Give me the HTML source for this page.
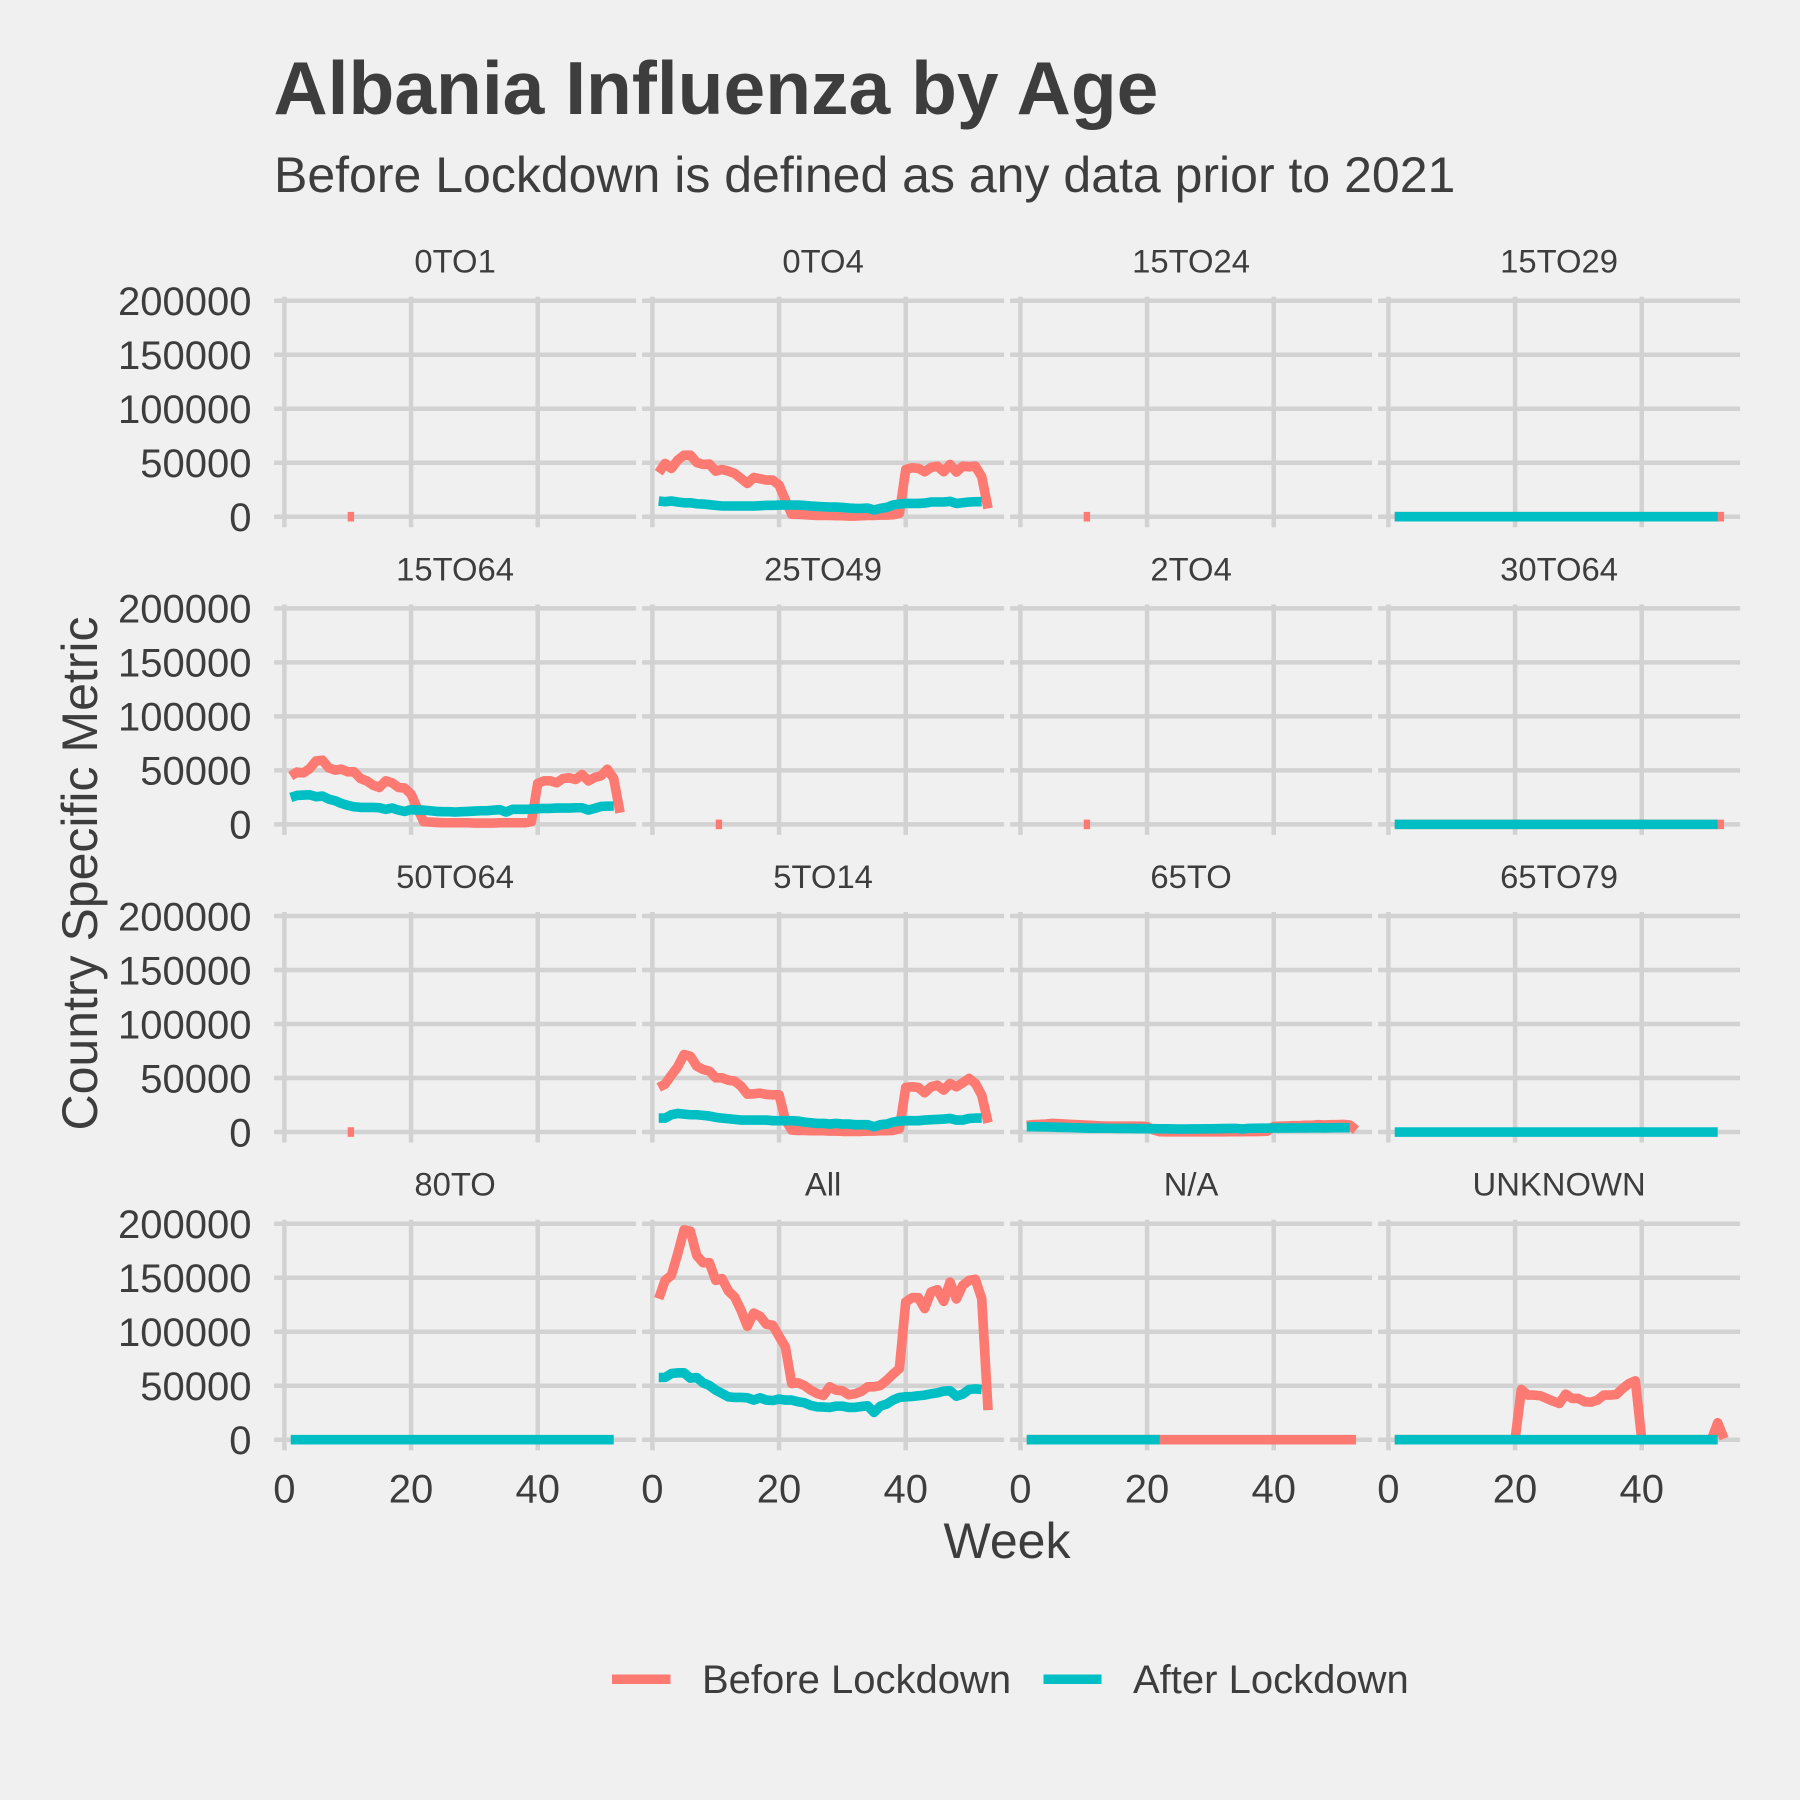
<!DOCTYPE html>
<html lang="en">
<head>
<meta charset="utf-8">
<title>Albania Influenza by Age</title>
<style>
html,body{margin:0;padding:0;background:#f0f0f0;}
svg{display:block;font-family:"Liberation Sans",Arial,sans-serif;}
text{fill:#3d3d3d;}
</style>
</head>
<body>
<svg id="chart" xmlns="http://www.w3.org/2000/svg" width="1800" height="1800" viewBox="0 0 1800 1800">
  <rect x="0" y="0" width="1800" height="1800" fill="#f0f0f0"/>
  <text x="273.5" y="114" font-size="75" font-weight="bold">Albania Influenza by Age</text>
  <text x="274" y="192" font-size="50">Before Lockdown is defined as any data prior to 2021</text>
  <text x="0" y="0" font-size="50" text-anchor="middle" transform="translate(97,873.5) rotate(-90)">Country Specific Metric</text>
  <text x="1007" y="1558" font-size="50" text-anchor="middle">Week</text>
  <g id="panels"></g>
  <g>
    <rect x="612" y="1674.5" width="58.5" height="9.5" fill="#fc7a71"/>
    <text x="702" y="1693" font-size="40">Before Lockdown</text>
    <rect x="1043.5" y="1674.5" width="58" height="9.5" fill="#00bfc4"/>
    <text x="1133" y="1693" font-size="40">After Lockdown</text>
  </g>
</svg>
<script>
const categories = ["0TO1","0TO4","15TO24","15TO29","15TO64","25TO49","2TO4","30TO64","50TO64","5TO14","65TO","65TO79","80TO","All","N/A","UNKNOWN"];
const xTickValues = [0,20,40];
const yTickValues = [0,50000,100000,150000,200000];
const yTickLabels = ["0","50000","100000","150000","200000"];

const before0TO1 = [null,null,null,null,null,null,null,null,null,0,0];
const before15TO24 = [null,null,null,null,null,null,null,null,null,0,0];
const before25TO49 = [null,null,null,null,null,null,null,null,null,0,0];
const before2TO4 = [null,null,null,null,null,null,null,null,null,0,0];
const before50TO64 = [null,null,null,null,null,null,null,null,null,0,0];

const before0TO4 = [40700,49300,44700,52400,57000,57000,50200,48400,48700,42200,43700,42200,40000,35400,30800,36300,35100,33900,33900,29300,15400,2200,2200,1800,1500,1200,1200,1200,900,900,600,600,900,1200,1200,1500,1500,1800,3100,43700,45300,44700,41600,45600,46800,41600,48400,41300,46800,46200,46800,37000,7700];
const after0TO4 = [14500,13900,14500,13600,12900,12900,12000,11700,11100,10500,9900,9900,9900,9900,9900,9900,10200,10500,10500,10800,10800,10800,10800,10500,9900,9500,9200,8900,8900,8600,8000,7700,7700,8000,6200,7700,8600,10800,11700,12300,12300,12300,12600,13600,13600,13600,14200,12300,12900,13600,13900,13900];

const before15TO29 = [0,0,0,0,0,0,0,0,0,0,0,0,0,0,0,0,0,0,0,0,0,0,0,0,0,0,0,0,0,0,0,0,0,0,0,0,0,0,0,0,0,0,0,0,0,0,0,0,0,0,0,0,0];
const after15TO29 = [0,0,0,0,0,0,0,0,0,0,0,0,0,0,0,0,0,0,0,0,0,0,0,0,0,0,0,0,0,0,0,0,0,0,0,0,0,0,0,0,0,0,0,0,0,0,0,0,0,0,0,0];

const before15TO64 = [44700,48400,47700,51700,58800,59400,52400,50200,51100,48700,48700,42500,40300,36300,34200,40300,38500,34200,33600,28000,14800,2500,2200,1800,1500,1500,1500,1500,1500,1200,1200,1200,1200,1500,1500,1500,1500,1500,2500,37900,40300,40300,38500,42500,43100,41600,46200,40300,43400,45000,51100,42500,10800];
const after15TO64 = [24900,26800,27100,27400,25600,26200,23400,21900,19400,17600,16300,15700,15700,15700,15400,13900,15100,13200,12000,13600,13200,13200,12600,12000,11700,11700,11400,11700,12000,12300,12600,12600,13200,13600,11400,13900,13900,13900,14200,14500,14800,14800,15100,15100,15100,15400,15400,13200,14800,16600,16900,16900];

const before30TO64 = [0,0,0,0,0,0,0,0,0,0,0,0,0,0,0,0,0,0,0,0,0,0,0,0,0,0,0,0,0,0,0,0,0,0,0,0,0,0,0,0,0,0,0,0,0,0,0,0,0,0,0,0,0];
const after30TO64 = [0,0,0,0,0,0,0,0,0,0,0,0,0,0,0,0,0,0,0,0,0,0,0,0,0,0,0,0,0,0,0,0,0,0,0,0,0,0,0,0,0,0,0,0,0,0,0,0,0,0,0,0];

const before5TO14 = [41300,44400,52700,60400,71800,70200,61000,57900,56400,50200,50200,48000,47100,42500,35100,35400,36000,34800,34500,34500,11100,1800,1500,1500,1200,1200,1200,900,900,600,600,600,600,900,900,1200,1200,1500,3100,41300,41900,41300,36300,41900,43400,38800,45000,41900,45600,49600,45000,34200,8600];
const after5TO14 = [12900,12900,16000,17200,16600,16000,16000,15400,14800,13600,12900,12300,11700,11100,11100,11100,11100,11100,10500,10500,10500,10500,10200,9200,8600,8000,8000,7400,8000,7400,7400,6800,6800,6800,4900,6800,7400,9200,10200,10500,10500,10500,11100,11400,11700,12000,12600,11100,11100,12600,12900,12900];

const before65TO = [6200,6800,7100,7400,8000,7700,7400,7100,6800,6500,6200,5900,5600,5400,5400,5400,5400,5400,5400,5100,2000,300,200,200,200,200,200,200,200,200,200,200,300,300,300,400,400,500,800,5100,5400,5600,5900,5900,6200,6200,6800,6500,6800,6800,7100,6500,1800];
const after65TO = [4900,4900,4800,4700,4600,4400,4300,4100,3900,3700,3600,3600,3500,3500,3400,3300,3300,3200,3200,3100,3100,3000,3000,2900,2800,2800,2900,2900,3000,3000,3100,3200,3300,3400,2800,3400,3500,3600,3600,3700,3700,3700,3800,3800,3800,3900,3900,3800,3900,4000,4000,4000];

const after65TO79 = [0,0,0,0,0,0,0,0,0,0,0,0,0,0,0,0,0,0,0,0,0,0,0,0,0,0,0,0,0,0,0,0,0,0,0,0,0,0,0,0,0,0,0,0,0,0,0,0,0,0,0,0];
const after80TO = [0,0,0,0,0,0,0,0,0,0,0,0,0,0,0,0,0,0,0,0,0,0,0,0,0,0,0,0,0,0,0,0,0,0,0,0,0,0,0,0,0,0,0,0,0,0,0,0,0,0,0,0];

const beforeAll = [130600,147500,152200,172200,194300,193100,170600,163900,163900,147500,149100,137700,132100,119800,105000,117300,114300,106900,106000,95800,85900,52000,52700,50200,45900,42800,41000,49000,45900,45300,41600,42500,44700,49000,49000,50200,55100,60700,65900,127500,131500,131500,121400,136800,138900,128100,146000,130300,142900,147500,148500,130600,27400];
const afterAll = [57600,57600,61300,61900,61900,57000,57600,52700,50200,45900,42800,39700,39100,39100,38800,36700,38800,36700,36300,37600,36700,36700,35100,34200,31700,30500,30200,29900,31100,31100,29900,29900,30800,31400,25300,31100,33000,36700,39100,39700,40000,40700,41300,42500,43400,45000,45300,40300,42200,46500,47100,46500];

const beforeNA = [0,0,0,0,0,0,0,0,0,0,0,0,0,0,0,0,0,0,0,0,0,0,0,0,0,0,0,0,0,0,0,0,0,0,0,0,0,0,0,0,0,0,0,0,0,0,0,0,0,0,0,0,0];
const afterNA = [0,0,0,0,0,0,0,0,0,0,0,0,0,0,0,0,0,0,0,0,0,0];

const beforeUNKNOWN = [0,0,0,0,0,0,0,0,0,0,0,0,0,0,0,0,0,0,0,0,46500,41300,41300,40700,38200,35700,33600,42200,38200,38200,35100,34800,36700,41300,41300,41900,47400,52000,54500,0,0,0,0,0,0,0,0,0,0,0,0,15700,1000];
const afterUNKNOWN = [0,0,0,0,0,0,0,0,0,0,0,0,0,0,0,0,0,0,0,0,0,0,0,0,0,0,0,0,0,0,0,0,0,0,0,0,0,0,0,0,0,0,0,0,0,0,0,0,0,0,0,0];

const beforeSeries = [before0TO1,before0TO4,before15TO24,before15TO29,before15TO64,before25TO49,before2TO4,before30TO64,before50TO64,before5TO14,before65TO,null,null,beforeAll,beforeNA,beforeUNKNOWN];
const afterSeries = [null,after0TO4,null,after15TO29,after15TO64,null,null,after30TO64,null,after5TO14,after65TO,after65TO79,after80TO,afterAll,afterNA,afterUNKNOWN];

const SVG_NS = "http://www.w3.org/2000/svg";
const COLUMNS = 4;
const COLUMN_ORIGIN = 284.4;
const COLUMN_PITCH = 368;
const PIXELS_PER_WEEK = 6.333;
const ROW_ORIGIN = 516.7;
const ROW_PITCH = 307.67;
const PIXELS_PER_UNIT = 216 / 200000;
const PANEL_LEFT_PAD = 10.3;
const PANEL_WIDTH = 362;
const GRID_COLOR = "#d2d2d2";
const GRID_WIDTH = 4.5;
const BEFORE_COLOR = "#fc7a71";
const AFTER_COLOR = "#00bfc4";
const LINE_WIDTH = 9.6;

function xScale(column, week) {
  return COLUMN_ORIGIN + column * COLUMN_PITCH + week * PIXELS_PER_WEEK;
}
function yScale(row, value) {
  return ROW_ORIGIN + row * ROW_PITCH - value * PIXELS_PER_UNIT;
}
function slug(label) {
  return label.toLowerCase().replace(/[^a-z0-9]+/g, "-");
}
function create(tag, attrs, parent) {
  const node = document.createElementNS(SVG_NS, tag);
  for (const key in attrs) node.setAttribute(key, attrs[key]);
  parent.appendChild(node);
  return node;
}
function linePath(values, column, row) {
  let d = "";
  let drawing = false;
  values.forEach(function (value, index) {
    if (value === null) { drawing = false; return; }
    const week = index + 1;
    d += (drawing ? "L" : "M") + xScale(column, week).toFixed(2) + " " + yScale(row, value).toFixed(2);
    drawing = true;
  });
  return d;
}

const panelsRoot = document.getElementById("panels");
const rowCount = Math.ceil(categories.length / COLUMNS);

categories.forEach(function (category, index) {
  const column = index % COLUMNS;
  const row = Math.floor(index / COLUMNS);
  const name = slug(category);

  const panel = create("g", {}, panelsRoot);
  
  

  const strip = create("text", {
    x: xScale(column, 0) - PANEL_LEFT_PAD + PANEL_WIDTH / 2,
    y: yScale(row, 0) - 244,
    "font-size": 32.8,
    "text-anchor": "middle"
  }, panel);
  
  
  strip.textContent = category;

  yTickValues.forEach(function (tick, tickIndex) {
    const gridY = yScale(row, tick);
    const grid = create("line", {
      x1: xScale(column, 0) - PANEL_LEFT_PAD,
      x2: xScale(column, 0) - PANEL_LEFT_PAD + PANEL_WIDTH,
      y1: gridY,
      y2: gridY,
      stroke: GRID_COLOR,
      "stroke-width": GRID_WIDTH
    }, panel);
    
    

    if (column === 0) {
      const label = create("text", {
        x: 251.5,
        y: gridY + 14.3,
        "font-size": 40,
        "text-anchor": "end"
      }, panel);
      
      
      label.textContent = yTickLabels[tickIndex];
    }
  });

  xTickValues.forEach(function (tick) {
    const gridX = xScale(column, tick);
    const grid = create("line", {
      x1: gridX,
      x2: gridX,
      y1: yScale(row, 0) - 220,
      y2: yScale(row, 0) + 10.5,
      stroke: GRID_COLOR,
      "stroke-width": GRID_WIDTH
    }, panel);
    
    

    if (row === rowCount - 1) {
      const label = create("text", {
        x: gridX,
        y: yScale(row, 0) + 63,
        "font-size": 40,
        "text-anchor": "middle"
      }, panel);
      
      
      label.textContent = String(tick);
    }
  });

  if (beforeSeries[index]) {
    const before = create("path", {
      d: linePath(beforeSeries[index], column, row),
      fill: "none",
      stroke: BEFORE_COLOR,
      "stroke-width": LINE_WIDTH,
      "stroke-linejoin": "round",
      "stroke-linecap": "butt"
    }, panel);
    
    
  }

  if (afterSeries[index]) {
    const after = create("path", {
      d: linePath(afterSeries[index], column, row),
      fill: "none",
      stroke: AFTER_COLOR,
      "stroke-width": LINE_WIDTH,
      "stroke-linejoin": "round",
      "stroke-linecap": "butt"
    }, panel);
    
    
  }
});
</script>
</body>
</html>
